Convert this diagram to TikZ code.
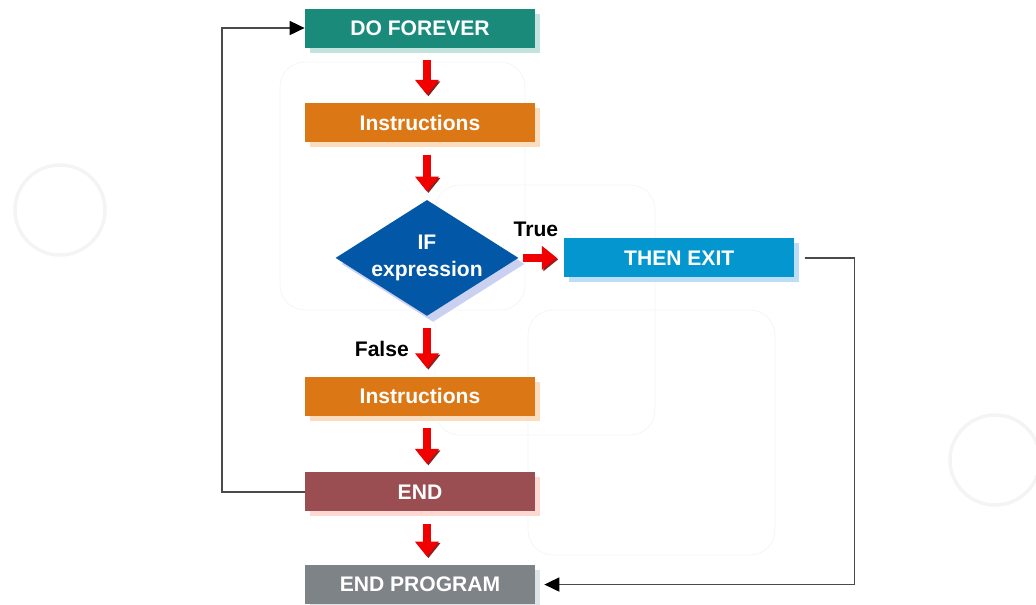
\documentclass[tikz,border=0pt]{standalone}
\usepackage{fontspec}
\setmainfont{Liberation Sans}
\usepackage{tikz}
\usetikzlibrary{arrows.meta,positioning,shapes.geometric,shadows}

\definecolor{teal1}{HTML}{1A8A7B}
\definecolor{teal2}{HTML}{C3E4DE}
\definecolor{orange1}{HTML}{DC7716}
\definecolor{orange2}{HTML}{FBDCBD}
\definecolor{blue1}{HTML}{0257A6}
\definecolor{blue2}{HTML}{C9D0F0}
\definecolor{sky1}{HTML}{0396CF}
\definecolor{sky2}{HTML}{BCDDF6}
\definecolor{wine1}{HTML}{9A4E51}
\definecolor{wine2}{HTML}{FFD8D2}
\definecolor{gray1}{HTML}{7E8387}
\definecolor{gray2}{HTML}{DEE3E7}
\definecolor{arrowred}{HTML}{F20000}
\definecolor{arrowdark}{HTML}{8A2020}
\definecolor{linegray}{HTML}{4A4A4A}
\definecolor{faint}{HTML}{F2F4F6}

\begin{document}
\begin{tikzpicture}[
    every node/.style={font=\fontsize{12}{14}\selectfont\bfseries},
    box/.style={rectangle, minimum width=4.6cm, minimum height=0.78cm, text=white,
      drop shadow={shadow xshift=0.1cm, shadow yshift=-0.1cm, opacity=1, fill=#1}},
    flow/.style={line width=4.5pt, arrowred, shorten <=0.24cm, shorten >=0.16cm,
      -{Triangle[length=0.3cm, width=0.46cm]},
      preaction={draw=arrowdark, transform canvas={xshift=0.8pt, yshift=-0.8pt}}},
    back/.style={draw=linegray, line width=1pt, -{Triangle[length=0.3cm, width=0.28cm, fill=black, color=black]}}
  ]
  \useasboundingbox (0,0) rectangle (20.72,-12.08);

  % faint background panels
  \draw[faint, rounded corners=0.5cm] (5.6,-1.24) rectangle (10.5,-6.2);
  \draw[faint, rounded corners=0.5cm] (8.7,-3.7) rectangle (13.1,-8.7);
  \draw[faint, rounded corners=0.5cm] (10.56,-6.2) rectangle (15.5,-11.1);
  \draw[faint, line width=2pt] (1.2,-4.2) circle (0.9cm);
  \draw[faint, line width=2pt] (19.9,-9.2) circle (0.9cm);

  \node [box=teal2, fill=teal1] (forever) at (8.4,-0.56) {DO FOREVER};
  \node [box=orange2, fill=orange1, below=1.1cm of forever] (instr1) {Instructions};
  \node [diamond, aspect=1.58, fill=blue1, text=white, minimum width=3.66cm, minimum height=2.32cm,
    inner sep=0pt, align=center, below=1.14cm of instr1, xshift=0.14cm,
    drop shadow={shadow xshift=0.12cm, shadow yshift=-0.12cm, opacity=1, fill=blue2}]
    (cond) {IF\\[1pt]expression};
  \node [box=sky2, fill=sky1, right=0.9cm of cond] (exit) {THEN EXIT};
  \node [box=orange2, fill=orange1, below=1.2cm of cond.south, anchor=north, xshift=-0.14cm] (instr2) {Instructions};
  \node [box=wine2, fill=wine1, below=1.12cm of instr2] (endloop) {END};
  \node [box=gray2, fill=gray1, below=1.06cm of endloop] (endprog) {END PROGRAM};

  % red flow arrows
  \draw[flow] ([xshift=0.14cm]forever.south) -- ([xshift=0.14cm]forever.south |- instr1.north);
  \draw[flow] ([xshift=0.14cm]instr1.south) -- (cond.north);
  \draw[flow] (cond.south) -- (cond.south |- instr2.north);
  \draw[flow] ([xshift=0.14cm]instr2.south) -- ([xshift=0.14cm]instr2.south |- endloop.north);
  \draw[flow] ([xshift=0.14cm]endloop.south) -- ([xshift=0.14cm]endloop.south |- endprog.north);
  \draw[flow, shorten <=0.08cm, shorten >=0.14cm] (cond.east) -- (exit.west);

  \node [above=0.3cm of cond.east, xshift=0.34cm] (truelbl) {True};
  \node [left=0.24cm of cond.south, yshift=-0.66cm, anchor=east] (falselbl) {False};

  % back lines
  \draw[back] (endloop.west) -- ++(-1.66,0) |- (forever.west);
  \draw[back, shorten <=0.2cm, shorten >=0.18cm] (exit.east) -- ++(1.2,0) |- (endprog.east);
\end{tikzpicture}
\end{document}
